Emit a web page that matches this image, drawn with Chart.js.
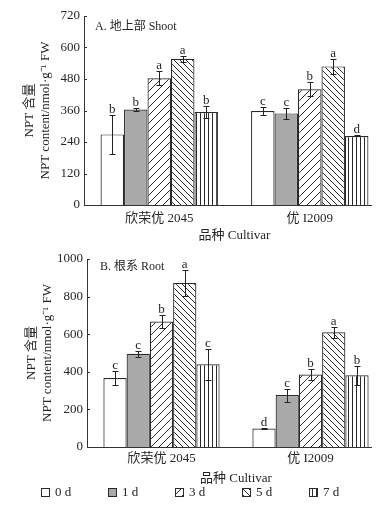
<!DOCTYPE html>
<html>
<head>
<meta charset="utf-8">
<script src="https://cdn.jsdelivr.net/npm/chart.js@4"></script>
<style>
  body { margin: 0; background: #fff; }
  #wrap { width: 385px; height: 505px; position: relative; }
  .panel { position: absolute; left: 0; width: 385px; }
  #shootBox { top: 0; height: 246px; }
  #rootBox { top: 246px; height: 259px; }
</style>
</head>
<body>
<div id="wrap">
  <div class="panel" id="shootBox"><canvas id="shootChart"></canvas></div>
  <div class="panel" id="rootBox"><canvas id="rootChart"></canvas></div>
</div>
<script>
const cultivars = ["欣荣优 2045", "优 I2009"];
const days = ["0 d", "1 d", "3 d", "5 d", "7 d"];

// panel A shoot, one row per day: [欣荣优 2045, 优 I2009]
const shootMean = [[269, 358], [364, 349], [483, 441], [557, 528], [354, 263]];
const shootErr = [[74, 14], [5, 21], [27, 27], [12, 29], [23, 2]];
const shootSig = [["b", "c"], ["b", "c"], ["a", "b"], ["a", "a"], ["b", "d"]];
const shootTicks = [0, 120, 240, 360, 480, 600, 720];

// panel B root
const rootMean = [[367, 98], [496, 276], [667, 386], [872, 610], [440, 381]];
const rootErr = [[37, 3], [16, 34], [35, 30], [70, 30], [82, 49]];
const rootSig = [["c", "d"], ["c", "c"], ["b", "b"], ["a", "a"], ["c", "b"]];
const rootTicks = [0, 200, 400, 600, 800, 1000];

const yTitle = ["NPT 含量", "NPT content/nmol·g⁻¹ FW"];
const xTitle = "品种 Cultivar";

const FONT = "'Liberation Serif', 'Noto Sans CJK SC', serif";
const INK = "#262626";

// hatch fills for the bars
function makePattern(kind) {
    const size = kind === "slash" ? 8 : kind === "back" ? 6 : 4;
    const c = document.createElement("canvas");
    c.width = size; c.height = size;
    const g = c.getContext("2d");
    g.fillStyle = "#fff";
    g.fillRect(0, 0, size, size);
    g.strokeStyle = "#2a2a2a";
    g.lineWidth = 1;
    g.beginPath();
    if (kind === "slash") {
        g.moveTo(-1, size + 1); g.lineTo(size + 1, -1);
        g.moveTo(-1, 1); g.lineTo(1, -1);
        g.moveTo(size - 1, size + 1); g.lineTo(size + 1, size - 1);
    } else if (kind === "back") {
        g.moveTo(-1, -1); g.lineTo(size + 1, size + 1);
        g.moveTo(size - 1, -1); g.lineTo(size + 1, 1);
        g.moveTo(-1, size - 1); g.lineTo(1, size + 1);
    } else {
        g.moveTo(0.5, 0); g.lineTo(0.5, size);
    }
    g.stroke();
    return g.createPattern(c, "repeat");
}

const fills = ["#ffffff", "#a9a9a9", makePattern("slash"), makePattern("back"), makePattern("vert")];

function buildDatasets(means, errs, sigs) {
    return days.map((d, i) => ({
        label: d,
        data: means[i],
        err: errs[i],
        sig: sigs[i],
        backgroundColor: fills[i],
        borderColor: "#2a2a2a",
        borderWidth: 1.2,
        categoryPercentage: 0.78,
        barPercentage: 1
    }));
}

// error bars + significance letters
const errorBars = {
    id: "errorBars",
    afterDatasetsDraw(chart) {
        const ctx = chart.ctx, y = chart.scales.y;
        ctx.save();
        ctx.strokeStyle = "#222";
        ctx.lineWidth = 1;
        ctx.fillStyle = INK;
        ctx.font = "13px " + FONT;
        ctx.textAlign = "center";
        ctx.textBaseline = "alphabetic";
        chart.data.datasets.forEach((ds, i) => {
            chart.getDatasetMeta(i).data.forEach((bar, j) => {
                const hi = Math.round(y.getPixelForValue(ds.data[j] + ds.err[j])) + 0.5;
                const lo = Math.round(y.getPixelForValue(ds.data[j] - ds.err[j])) + 0.5;
                const x = Math.round(bar.x) + 0.5;
                ctx.beginPath();
                ctx.moveTo(x, hi); ctx.lineTo(x, lo);
                ctx.moveTo(x - 3, hi); ctx.lineTo(x + 3, hi);
                ctx.moveTo(x - 3, lo); ctx.lineTo(x + 3, lo);
                ctx.stroke();
                ctx.fillText(ds.sig[j], bar.x, hi - 3);
            });
        });
        ctx.restore();
    }
};

// inner y ticks, shortened x baseline, panel label, legend
const axisExtras = {
    id: "axisExtras",
    afterDraw(chart, args, opts) {
        const { ctx, chartArea: a, scales: { y } } = chart;
        ctx.save();
        ctx.strokeStyle = "#333";
        ctx.lineWidth = 1;
        ctx.beginPath();
        y.ticks.forEach(t => {
            const py = Math.round(y.getPixelForValue(t.value)) + 0.5;
            ctx.moveTo(a.left, py);
            ctx.lineTo(a.left + 3, py);
        });
        const by = Math.round(a.bottom) + 0.5;
        ctx.moveTo(a.left, by);
        ctx.lineTo(a.right - 13, by);
        ctx.stroke();

        ctx.fillStyle = INK;
        ctx.font = "12px " + FONT;
        ctx.textBaseline = "middle";
        ctx.textAlign = "left";
        ctx.fillText(opts.label, a.left + opts.dx, a.top + opts.dy);

        if (opts.legend) {
            const ly = chart.height - 12.5;
            ctx.font = "13px " + FONT;
            chart.data.datasets.forEach((ds, i) => {
                const x = 41 + i * 67;
                ctx.fillStyle = ds.backgroundColor;
                ctx.fillRect(x, ly - 4.5, 9, 9);
                ctx.strokeStyle = "#2a2a2a";
                ctx.strokeRect(x + 0.5, ly - 4, 8, 8);
                ctx.fillStyle = INK;
                ctx.fillText(ds.label, x + 14, ly);
            });
        }
        ctx.restore();
    }
};

function makeChart(canvasId, means, errs, sigs, ticks, cfg) {
    const ctx = document.getElementById(canvasId).getContext("2d");
    return new Chart(ctx, {
        type: "bar",
        data: { labels: cultivars, datasets: buildDatasets(means, errs, sigs) },
        plugins: [errorBars, axisExtras],
        options: {
            responsive: true,
            maintainAspectRatio: false,
            animation: false,
            layout: { padding: { top: cfg.top, right: 0, bottom: cfg.bottom, left: 0 } },
            plugins: {
                legend: { display: false },
                tooltip: { enabled: false },
                axisExtras: { label: cfg.label, dx: cfg.dx, dy: cfg.dy, legend: cfg.legend }
            },
            scales: {
                x: {
                    offset: true,
                    grid: { display: false, drawTicks: false },
                    border: { display: false },
                    ticks: { color: INK, font: { family: FONT, size: 13 }, padding: cfg.tickPad, maxRotation: 0 },
                    title: { display: true, text: xTitle, color: INK, font: { family: FONT, size: 13 }, padding: { top: 0, bottom: cfg.titlePad } },
                    afterFit: s => { s.height = cfg.xHeight; }
                },
                y: {
                    min: 0,
                    max: ticks[ticks.length - 1],
                    afterBuildTicks: s => { s.ticks = ticks.map(v => ({ value: v })); },
                    grid: { display: false, drawTicks: false },
                    border: { display: true, color: "#333", width: 1 },
                    ticks: { color: INK, font: { family: FONT, size: 13 }, padding: 4, callback: v => String(v) },
                    title: { display: true, text: yTitle, color: INK, font: { family: FONT, size: 13, lineHeight: 1.2 }, padding: { top: cfg.yTitlePad, bottom: 0 } },
                    afterFit: s => { s.width = cfg.yWidth; }
                }
            }
        }
    });
}

makeChart("shootChart", shootMean, shootErr, shootSig, shootTicks, {
    top: 16, bottom: 0, xHeight: 41, tickPad: 6, titlePad: 3, yWidth: 84, yTitlePad: 22,
    label: "A. 地上部 Shoot", dx: 11, dy: 11, legend: false
});
makeChart("rootChart", rootMean, rootErr, rootSig, rootTicks, {
    top: 13, bottom: 19, xHeight: 39, tickPad: 4, titlePad: 0, yWidth: 87, yTitlePad: 24,
    label: "B. 根系 Root", dx: 13, dy: 8, legend: true
});
</script>
</body>
</html>
